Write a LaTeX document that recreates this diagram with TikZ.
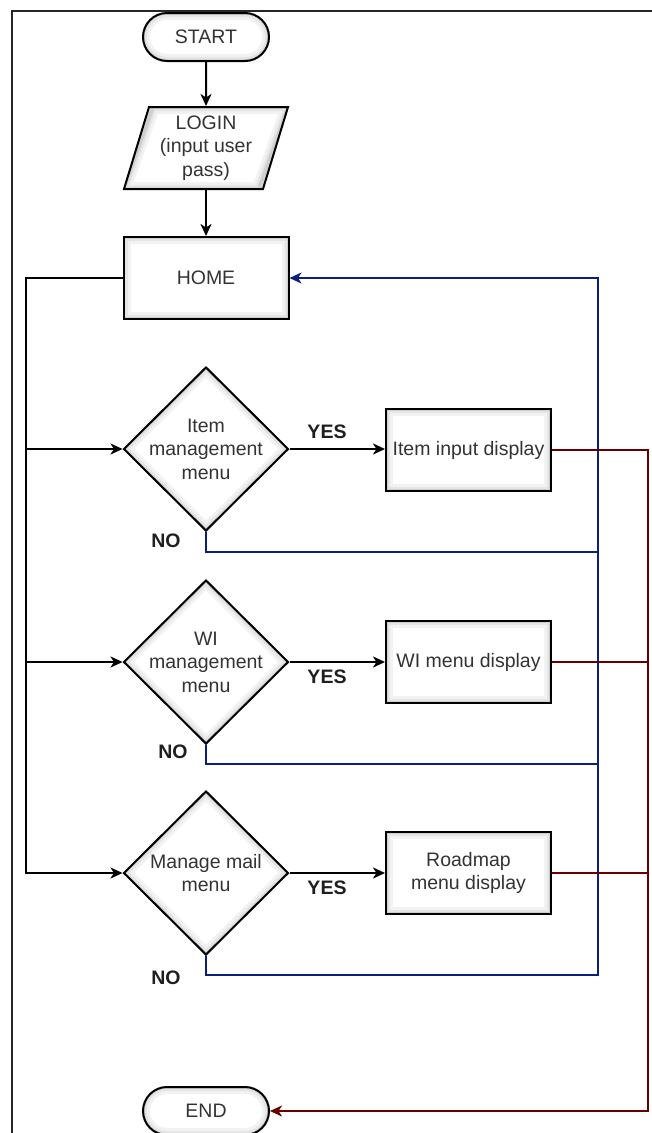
\documentclass[tikz,border=0pt]{standalone}
\usepackage{fontspec}
\setmainfont{Liberation Sans}
\usetikzlibrary{arrows.meta,shapes.geometric,shapes.misc,calc}
\definecolor{txtgray}{HTML}{333333}
\definecolor{retblue}{HTML}{0B1F7A}
\definecolor{endred}{HTML}{660000}
\tikzset{
  every node/.style = {font=\fontsize{19.5}{23.5}\selectfont, text=txtgray, align=center},
  boxbase/.style  = {draw=black, line width=2pt, fill=white, inner sep=3pt},
  glowrect/.style = {path picture={
      \foreach \w/\c in {14/10,8/20,3.5/38}
        \draw[gray!\c, line width=\w pt] (path picture bounding box.south west)
              rectangle (path picture bounding box.north east);}},
  glowterm/.style = {path picture={
      \foreach \w/\c in {14/10,8/20,3.5/38}
        \draw[gray!\c, line width=\w pt, rounded corners=24pt] (path picture bounding box.south west)
              rectangle (path picture bounding box.north east);}},
  glowdiam/.style = {path picture={
      \foreach \w/\c in {14/10,8/20,3.5/38}
        \draw[gray!\c, line width=\w pt] (path picture bounding box.north)
              -- (path picture bounding box.east) -- (path picture bounding box.south)
              -- (path picture bounding box.west) -- cycle;}},
  glowio/.style   = {path picture={
      \foreach \w/\c in {14/10,8/20,3.5/38}
        \draw[gray!\c, line width=\w pt] ($(path picture bounding box.north west)+(29,0)$)
              -- (path picture bounding box.north east) -- ($(path picture bounding box.south east)+(-29,0)$)
              -- (path picture bounding box.south west) -- cycle;}},
  termbox/.style  = {boxbase, glowterm, rounded rectangle, minimum width=132pt, minimum height=48pt},
  iobox/.style    = {boxbase, glowio, trapezium, trapezium left angle=70.5, trapezium right angle=109.5,
                     trapezium stretches body, minimum width=164pt, minimum height=82pt},
  procbox/.style  = {boxbase, glowrect, rectangle, minimum width=165pt, minimum height=82pt},
  decbox/.style   = {boxbase, glowdiam, diamond, inner sep=-20pt, minimum width=165pt, minimum height=164pt},
  lbl/.style      = {font=\fontsize{19.5}{23.5}\selectfont\bfseries, text=black!88, inner sep=1pt},
  flow/.style     = {-{Stealth[length=12pt,width=11pt,inset=3.5pt]}, line width=2pt, black},
  backflow/.style = {-{Stealth[length=12pt,width=11pt,inset=3.5pt]}, line width=1.7pt, retblue},
  backline/.style = {line width=1.7pt, retblue},
  doneflow/.style = {-{Stealth[length=12pt,width=11pt,inset=3.5pt]}, line width=1.7pt, endred},
  doneline/.style = {line width=1.7pt, endred}
}
\begin{document}
\begin{tikzpicture}[x=1pt, y=-1pt]
  \useasboundingbox (0,0) rectangle (652,1133);
  % frame
  \draw[line width=2pt, black!85] (652,11) -- (12,11) -- (12,1133);

  % main column
  \node[termbox] (start) at (206,37)   {START};
  \node[iobox]   (login) at (206,148)  {LOGIN\\(input user\\pass)};
  \node[procbox] (home)  at (206,278)  {HOME};
  \node[decbox]  (mItem) at (206,449)  {Item\\management\\menu};
  \node[decbox]  (mWi)   at (206,662)  {WI\\management\\menu};
  \node[decbox]  (mMail) at (206,873)  {Manage mail\\menu};
  \node[termbox] (endn)  at (206,1111) {END};

  % displays
  \node[procbox] (dItem) at (468.5,450) {Item input display};
  \node[procbox] (dWi)   at (468.5,662) {WI menu display};
  \node[procbox] (dMap)  at (468.5,873) {Roadmap\\menu display};

  % labels
  \node[lbl] (yItem) at (327,432) {YES};
  \node[lbl] (yWi)   at (327,677) {YES};
  \node[lbl] (yMail) at (327,888) {YES};
  \node[lbl] (nItem) at (166,541) {NO};
  \node[lbl] (nWi)   at (173,752) {NO};
  \node[lbl] (nMail) at (166,978) {NO};

  % forward flow
  \draw[flow] (start) -- (login);
  \draw[flow] (login.south -| home) -- (home);
  \coordinate (trunk) at (26,278);
  \draw[flow] (home.west) -- (trunk) |- (mMail.west);
  \draw[flow] (trunk |- mItem.west) -- (mItem.west);
  \draw[flow] (trunk |- mWi.west) -- (mWi.west);
  \draw[flow] (mItem.east) -- (mItem.east -| dItem.west);
  \draw[flow] (mWi.east) -- (mWi.east -| dWi.west);
  \draw[flow] (mMail.east) -- (mMail.east -| dMap.west);

  % NO returns to home
  \coordinate (retbus) at (598,278);
  \draw[backflow] (mMail.south) -- ++(0,19) -| (retbus) -- (home.east);
  \draw[backline] (mItem.south) -- ++(0,20) coordinate (noItem) -- (noItem -| retbus);
  \draw[backline] (mWi.south) -- ++(0,19) coordinate (noWi) -- (noWi -| retbus);

  % displays go to end
  \coordinate (endbus) at (648,1111);
  \draw[doneflow] (dItem.east) -| (endbus) -- (endn.east);
  \draw[doneline] (dWi.east) -- (dWi.east -| endbus);
  \draw[doneline] (dMap.east) -- (dMap.east -| endbus);
\end{tikzpicture}
\end{document}
